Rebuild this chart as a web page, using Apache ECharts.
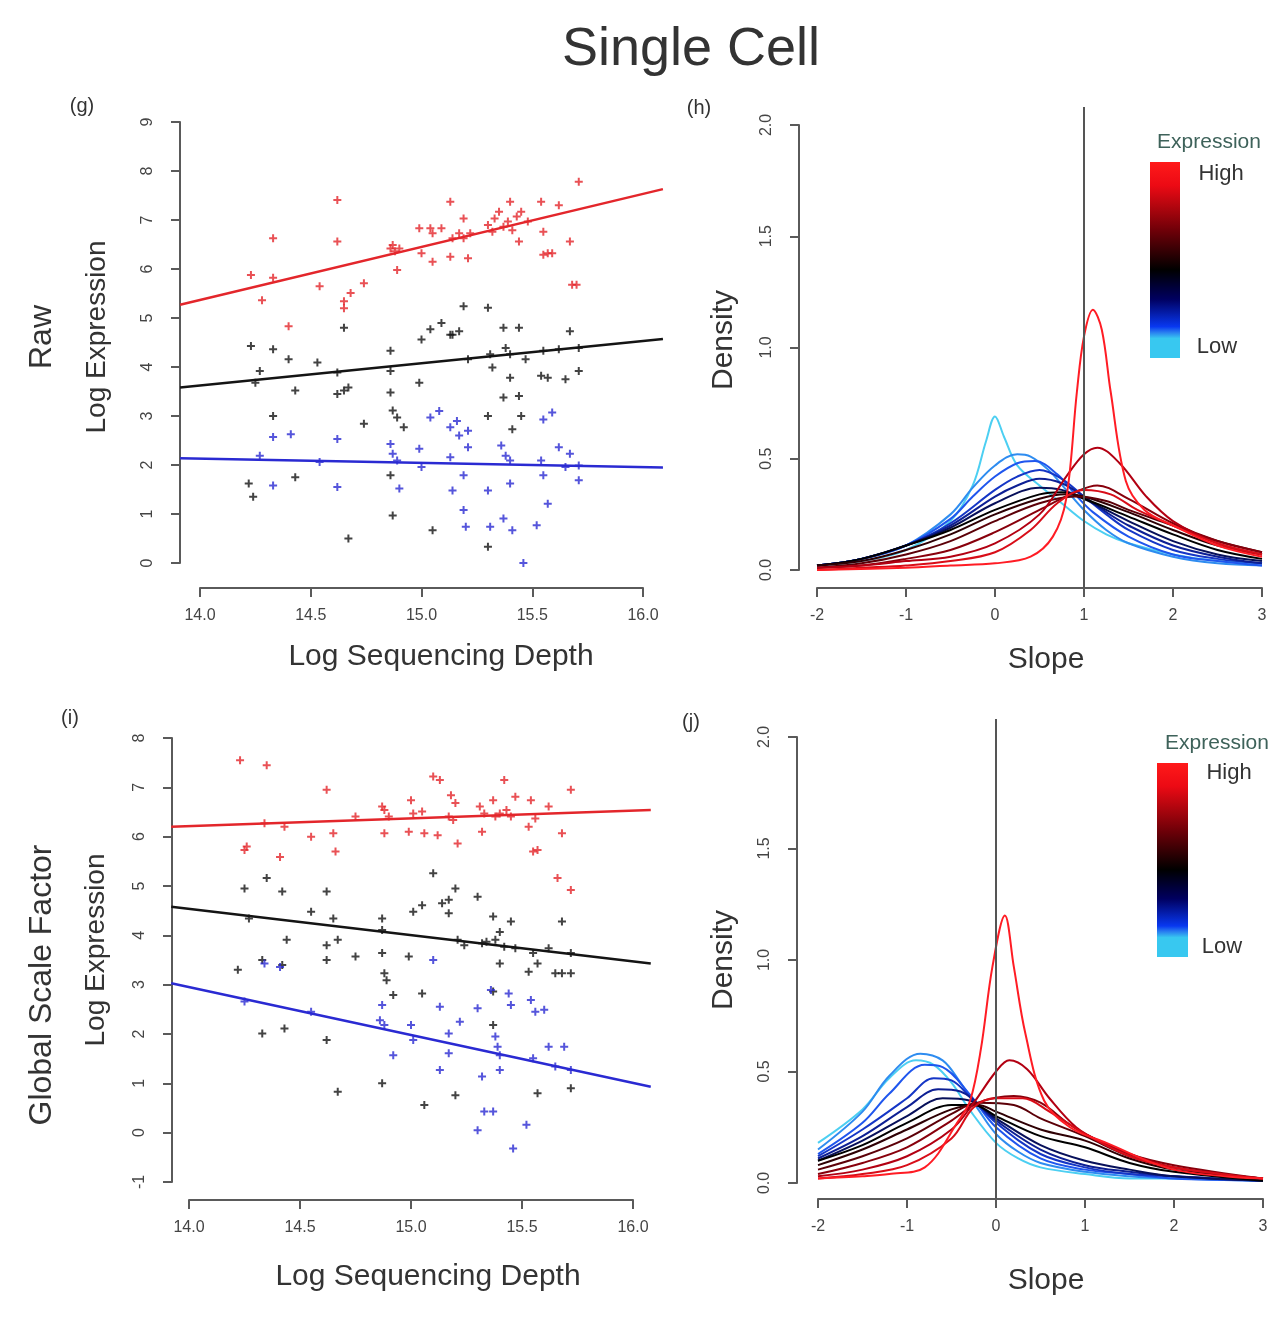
<!DOCTYPE html>
<html>
<head>
<meta charset="utf-8">
<title>Single Cell</title>
<script src="https://cdn.jsdelivr.net/npm/echarts@6/dist/echarts.min.js"></script>
<style>
  html, body { margin: 0; padding: 0; background: #fff; }
  #main { width: 1279px; height: 1320px; }
</style>
</head>
<body>
<div id="main"></div>
<script>
// ---------- axis tick ranges [min, max, step] ----------
var depthTicks = [14, 16, 0.5];
var rawExprTicks = [0, 9, 1];
var gsfExprTicks = [-1, 8, 1];
var slopeTicks = [-2, 3, 1];
var densityTicks = [0, 2, 0.5];

// ---------- (g) raw: log expression vs log sequencing depth ----------
var rawHigh = [[14.23,5.88],[14.28,5.36],[14.33,5.82],[14.33,6.63],[14.40,4.83],[14.54,5.65],[14.62,7.41],[14.62,6.56],
  [14.65,5.34],[14.65,5.2],[14.68,5.51],[14.74,5.71],[14.86,6.42],[14.87,6.49],[14.88,6.36],[14.89,5.98],[14.90,6.42],
  [14.99,6.83],[15.00,6.32],[15.04,6.83],[15.05,6.15],[15.05,6.73],[15.09,6.83],[15.13,7.37],[15.13,6.25],[15.14,6.63],
  [15.17,6.73],[15.19,7.03],[15.19,6.63],[15.21,6.22],[15.22,6.73],[15.30,6.90],[15.32,6.76],[15.33,7.03],[15.35,7.17],
  [15.37,6.86],[15.39,6.97],[15.40,7.37],[15.41,6.79],[15.43,7.07],[15.44,6.56],[15.45,7.17],[15.48,6.97],[15.54,7.37],
  [15.55,6.76],[15.55,6.29],[15.57,6.32],[15.59,6.32],[15.62,7.30],[15.67,6.56],[15.68,5.68],[15.70,5.68],[15.71,7.78]];
var rawMid = [[14.23,4.43],[14.27,3.92],[14.25,3.68],[14.33,4.36],[14.40,4.16],[14.33,3.0],[14.43,3.52],[14.53,4.09],
  [14.62,3.89],[14.62,3.45],[14.65,3.52],[14.67,3.58],[14.65,4.8],[14.74,2.84],[14.86,4.33],[14.86,3.92],[14.86,3.48],
  [14.87,3.11],[14.89,2.97],[14.92,2.77],[14.99,3.68],[15.00,4.56],[15.04,4.77],[15.09,4.9],[15.13,4.66],[15.14,4.66],
  [15.17,4.73],[15.19,5.24],[15.21,4.16],[15.30,5.21],[15.31,4.26],[15.32,3.99],[15.37,4.8],[15.37,3.38],[15.38,4.39],
  [15.40,4.26],[15.40,3.78],[15.44,4.8],[15.44,3.41],[15.45,3.0],[15.47,4.16],[15.54,3.82],[15.55,4.33],[15.57,3.78],
  [15.62,4.36],[15.65,3.75],[15.67,4.73],[15.71,4.39],[15.71,3.92],[15.30,3.0],[15.41,2.73],
  [14.22,1.62],[14.24,1.35],[14.43,1.75],[14.67,0.5],[14.87,0.97],[15.05,0.67],[15.30,0.33],[14.86,1.79]];
var rawLow = [[14.33,2.57],[14.41,2.63],[14.27,2.19],[14.54,2.06],[14.62,2.53],[14.86,2.43],[14.87,2.23],[14.89,2.09],
  [14.90,1.52],[14.99,2.33],[15.00,1.96],[15.04,2.97],[15.08,3.1],[15.13,2.77],[15.13,2.16],[15.14,1.48],[15.16,2.9],
  [15.17,2.6],[15.21,2.7],[15.21,2.36],[15.19,1.79],[15.19,1.08],[15.20,0.74],[15.30,1.48],[15.31,0.74],[15.36,2.4],
  [15.38,2.19],[15.40,2.09],[15.40,1.62],[15.37,0.91],[15.41,0.67],[15.46,0.0],[15.54,2.09],[15.55,1.79],[15.55,2.93],
  [15.57,1.21],[15.59,3.07],[15.62,2.36],[15.65,1.96],[15.67,2.23],[15.71,1.99],[15.71,1.69],[15.52,0.77],[14.33,1.58],[14.62,1.55]];
// fitted lines, read at the left and right edge of the plotting region
var rawFitHigh = [[13.91,5.27],[16.09,7.63]];
var rawFitMid = [[13.91,3.58],[16.09,4.57]];
var rawFitLow = [[13.91,2.14],[16.09,1.95]];

// ---------- (i) global scale factor ----------
var gsfHigh = [[14.23,7.55],[14.35,7.45],[14.62,6.95],[14.25,5.73],[14.26,5.80],[14.34,6.27],[14.43,6.20],[14.41,5.59],
  [14.55,6.00],[14.65,6.07],[14.66,5.70],[14.75,6.41],[14.87,6.61],[14.88,6.54],[14.88,6.07],[14.90,6.41],[15.00,6.74],
  [15.01,6.47],[14.99,6.10],[15.05,6.51],[15.06,6.07],[15.10,7.22],[15.12,6.03],[15.13,7.15],[15.17,6.41],[15.18,6.84],
  [15.19,6.34],[15.21,5.86],[15.20,6.68],[15.31,6.61],[15.32,6.10],[15.33,6.47],[15.37,6.74],[15.38,6.41],[15.40,6.47],
  [15.42,7.15],[15.43,6.54],[15.45,6.41],[15.47,6.81],[15.53,6.20],[15.54,6.74],[15.56,6.37],[15.55,5.70],[15.57,5.73],
  [15.62,6.61],[15.68,6.07],[15.72,6.95],[15.66,5.16],[15.72,4.92]];
var gsfMid = [[14.25,4.95],[14.22,3.30],[14.27,4.34],[14.35,5.16],[14.33,3.50],[14.42,4.89],[14.42,3.40],[14.44,3.91],
  [14.55,4.48],[14.62,4.89],[14.65,4.34],[14.62,3.80],[14.67,3.91],[14.62,3.50],[14.75,3.57],[14.87,4.34],[14.87,4.11],
  [14.87,3.64],[14.88,3.23],[14.89,3.09],[14.92,2.79],[14.99,3.57],[15.01,4.48],[15.05,4.61],[15.05,2.82],[15.10,5.26],
  [15.14,4.65],[15.17,4.72],[15.17,4.45],[15.20,4.95],[15.21,3.91],[15.24,3.80],[15.30,4.78],[15.32,3.84],[15.34,3.87],
  [15.37,4.38],[15.38,3.91],[15.40,4.07],[15.40,3.43],[15.42,3.77],[15.45,4.28],[15.47,3.74],[15.55,3.64],[15.57,3.43],
  [15.53,3.26],[15.62,3.74],[15.68,4.28],[15.72,3.64],[15.68,3.23],[15.65,3.23],[15.72,3.23],[15.37,2.86],[15.37,2.18],
  [15.57,0.80],[15.72,0.90],[14.67,0.83],[14.87,1.00],[15.06,0.56],[15.20,0.76],[14.33,2.01],[14.43,2.11],[14.62,1.88]];
var gsfLow = [[14.25,2.66],[14.34,3.43],[14.41,3.36],[14.55,2.45],[14.87,2.59],[14.86,2.28],[14.88,2.18],[14.92,1.57],
  [15.00,2.18],[15.01,1.88],[15.10,3.50],[15.13,2.55],[15.13,1.27],[15.17,2.01],[15.17,1.61],[15.22,2.25],[15.30,2.52],
  [15.32,1.14],[15.36,2.89],[15.38,1.95],[15.39,1.74],[15.40,1.57],[15.40,1.27],[15.44,2.82],[15.45,2.59],[15.54,2.69],
  [15.56,2.45],[15.60,2.49],[15.62,1.74],[15.69,1.74],[15.55,1.51],[15.65,1.34],[15.72,1.27],[15.33,0.43],[15.37,0.43],
  [15.30,0.05],[15.46,-0.32],[15.52,0.16]];
var gsfFitHigh = [[13.92,6.20],[16.08,6.54]];
var gsfFitMid = [[13.92,4.58],[16.08,3.43]];
var gsfFitLow = [[13.92,3.03],[16.08,0.93]];

// ---------- (h) / (j) slope densities, ordered low -> high expression ----------
var rawSlopeCurves = [
  [[-2,0.02],[-1.5,0.04],[-1,0.09],[-0.5,0.22],[-0.25,0.38],[-0.1,0.58],[0,0.69],[0.1,0.6],[0.25,0.47],[0.5,0.38],[0.75,0.3],[1,0.22],[1.25,0.16],[1.5,0.12],[2,0.07],[2.5,0.04],[3,0.03]],
  [[-2,0.02],[-1.5,0.05],[-1,0.11],[-0.5,0.25],[-0.25,0.37],[0,0.47],[0.25,0.52],[0.4,0.51],[0.6,0.45],[0.8,0.36],[1,0.27],[1.25,0.18],[1.5,0.12],[2,0.06],[2.5,0.03],[3,0.02]],
  [[-2,0.02],[-1.5,0.05],[-1,0.11],[-0.5,0.23],[-0.25,0.33],[0,0.42],[0.25,0.48],[0.45,0.49],[0.7,0.43],[0.9,0.34],[1.1,0.26],[1.5,0.15],[2,0.07],[2.5,0.04],[3,0.02]],
  [[-2,0.02],[-1.5,0.05],[-1,0.11],[-0.5,0.21],[0,0.36],[0.25,0.42],[0.5,0.45],[0.75,0.41],[1,0.33],[1.25,0.25],[1.5,0.18],[2,0.09],[2.5,0.05],[3,0.03]],
  [[-2,0.02],[-1.5,0.05],[-1,0.11],[-0.5,0.2],[0,0.33],[0.25,0.38],[0.5,0.41],[0.75,0.39],[1,0.33],[1.25,0.26],[1.5,0.2],[2,0.11],[2.5,0.06],[3,0.03]],
  [[-2,0.02],[-1.5,0.05],[-1,0.11],[-0.5,0.19],[0,0.3],[0.5,0.37],[0.75,0.36],[1,0.32],[1.5,0.22],[2,0.13],[2.5,0.07],[3,0.04]],
  [[-2,0.02],[-1.5,0.05],[-1,0.11],[-0.5,0.18],[0,0.27],[0.5,0.34],[0.75,0.35],[1,0.32],[1.5,0.24],[2,0.16],[2.5,0.09],[3,0.05]],
  [[-2,0.02],[-1.5,0.04],[-1,0.09],[-0.5,0.16],[0,0.25],[0.5,0.32],[0.8,0.34],[1,0.33],[1.5,0.26],[2,0.18],[2.5,0.11],[3,0.07]],
  [[-2,0.01],[-1.5,0.03],[-1,0.07],[-0.5,0.13],[0,0.22],[0.5,0.3],[0.9,0.33],[1.25,0.31],[1.5,0.27],[2,0.2],[2.5,0.13],[3,0.08]],
  [[-2,0.01],[-1.5,0.02],[-1,0.05],[-0.5,0.09],[0,0.17],[0.5,0.27],[0.9,0.35],[1.15,0.38],[1.5,0.32],[2,0.21],[2.5,0.13],[3,0.08]],
  [[-2,0.01],[-1.5,0.02],[-1,0.04],[-0.5,0.06],[0,0.12],[0.5,0.25],[0.8,0.42],[1,0.52],[1.15,0.55],[1.4,0.48],[1.7,0.33],[2,0.22],[2.5,0.12],[3,0.07]],
  [[-2,0.0],[-1.5,0.01],[-1,0.02],[-0.5,0.04],[0,0.08],[0.4,0.18],[0.7,0.3],[1,0.36],[1.3,0.34],[1.6,0.27],[2,0.2],[2.5,0.12],[3,0.07]],
  [[-2,0.0],[-1,0.01],[-0.5,0.02],[0,0.03],[0.4,0.06],[0.65,0.15],[0.8,0.32],[0.92,0.8],[1.0,1.05],[1.1,1.17],[1.2,1.08],[1.3,0.8],[1.47,0.4],[1.68,0.27],[2,0.2],[2.5,0.11],[3,0.06]]
];
var gsfSlopeCurves = [
  [[-2,0.18],[-1.5,0.33],[-1.2,0.47],[-0.9,0.55],[-0.7,0.53],[-0.5,0.45],[-0.3,0.33],[0,0.18],[0.25,0.11],[0.5,0.07],[1,0.04],[1.5,0.02],[2,0.02],[3,0.01]],
  [[-2,0.15],[-1.5,0.32],[-1.2,0.48],[-0.85,0.58],[-0.6,0.55],[-0.4,0.45],[-0.2,0.33],[0,0.22],[0.25,0.14],[0.5,0.09],[1,0.05],[1.5,0.03],[2,0.02],[3,0.01]],
  [[-2,0.13],[-1.5,0.27],[-1.2,0.4],[-0.8,0.53],[-0.6,0.52],[-0.3,0.4],[0,0.25],[0.5,0.11],[1,0.06],[1.5,0.04],[2,0.02],[3,0.01]],
  [[-2,0.12],[-1.5,0.24],[-1,0.38],[-0.7,0.47],[-0.5,0.46],[-0.3,0.39],[0,0.27],[0.5,0.13],[1,0.07],[1.5,0.04],[2,0.03],[3,0.01]],
  [[-2,0.11],[-1.5,0.21],[-1,0.34],[-0.65,0.42],[-0.4,0.41],[0,0.28],[0.5,0.15],[1,0.08],[1.5,0.05],[2,0.03],[3,0.01]],
  [[-2,0.1],[-1.5,0.19],[-1,0.3],[-0.6,0.38],[-0.3,0.37],[0,0.29],[0.5,0.17],[1,0.1],[1.5,0.06],[2,0.03],[3,0.01]],
  [[-2,0.1],[-1.5,0.17],[-1,0.27],[-0.5,0.35],[-0.25,0.35],[0,0.3],[0.5,0.21],[1,0.16],[1.5,0.09],[2,0.05],[3,0.01]],
  [[-2,0.08],[-1.5,0.15],[-1,0.24],[-0.5,0.33],[-0.2,0.35],[0,0.32],[0.5,0.24],[1,0.19],[1.5,0.11],[2,0.06],[3,0.02]],
  [[-2,0.06],[-1.5,0.12],[-1,0.2],[-0.5,0.31],[-0.2,0.36],[0.2,0.35],[0.5,0.29],[1,0.21],[1.5,0.12],[2,0.07],[3,0.02]],
  [[-2,0.04],[-1.5,0.09],[-1,0.16],[-0.5,0.28],[-0.2,0.36],[0.2,0.39],[0.5,0.36],[0.8,0.27],[1,0.22],[1.5,0.13],[2,0.08],[3,0.02]],
  [[-2,0.03],[-1.5,0.06],[-1,0.12],[-0.5,0.24],[-0.25,0.36],[0,0.5],[0.15,0.55],[0.35,0.51],[0.6,0.38],[0.9,0.25],[1.2,0.18],[1.5,0.13],[2,0.07],[3,0.02]],
  [[-2,0.02],[-1.5,0.04],[-1,0.08],[-0.5,0.2],[-0.25,0.34],[0,0.38],[0.3,0.38],[0.6,0.32],[1,0.22],[1.5,0.12],[2,0.07],[3,0.02]],
  [[-2,0.02],[-1.5,0.03],[-1.2,0.04],[-0.8,0.07],[-0.42,0.28],[-0.29,0.37],[-0.17,0.6],[-0.04,0.97],[0.1,1.2],[0.2,0.97],[0.33,0.67],[0.54,0.37],[0.83,0.25],[1.24,0.18],[2,0.06],[3,0.02]]
];
var rawSlopeRef = 1;
var gsfSlopeRef = 0;

// ---------- styling ----------
var FONT = '"Liberation Sans", Arial, sans-serif';
var TXT = '#333';
var AXIS = '#5a5a5a';
var RED = '#e3262b', BLK = '#141414', BLU = '#2a2ad2';
var curveColors = ['#4ccff2', '#2e8cf0', '#1f56ee', '#1536c6', '#0d1f94', '#07105a', '#000000',
                   '#2e0004', '#5c0008', '#88000c', '#b20012', '#d80d18', '#ff1c24'];
var barStops = [[0, '#ff1a1a'], [0.12, '#ec0a14'], [0.35, '#6e0008'], [0.55, '#000000'],
                [0.7, '#000060'], [0.84, '#0838f0'], [0.87, '#2a80f0'], [0.9, '#38c8f0'], [1, '#38c8f0']];
var PLUS = 'path://M0,3H3V0H5V3H8V5H5V8H3V5H0Z';

// pixel boxes: "axis" = first..last tick, "plot" = full plotting region (R usr)
var panels = [
  { axis: {l: 200, t: 122, r: 643, b: 563}, plot: {l: 180, t: 97, r: 662, b: 588}, x: depthTicks, y: rawExprTicks, xfmt: 1, yfmt: 0 },
  { axis: {l: 189, t: 738, r: 633, b: 1182}, plot: {l: 172, t: 720, r: 651, b: 1200}, x: depthTicks, y: gsfExprTicks, xfmt: 1, yfmt: 0 },
  { axis: {l: 817, t: 125, r: 1262, b: 570}, plot: {l: 799, t: 107, r: 1279, b: 588}, x: slopeTicks, y: densityTicks, xfmt: 0, yfmt: 1 },
  { axis: {l: 818, t: 737, r: 1263, b: 1183}, plot: {l: 797, t: 719, r: 1279, b: 1199}, x: slopeTicks, y: densityTicks, xfmt: 0, yfmt: 1 }
];

var grids = [], xAxes = [], yAxes = [];
panels.forEach(function (p) {
  var a = p.axis, q = p.plot;
  grids.push({ left: a.l, top: a.t, width: a.r - a.l, height: a.b - a.t });
  var lbl = { fontSize: 16, color: '#444', fontFamily: FONT, showMinLabel: true, showMaxLabel: true };
  xAxes.push({
    gridIndex: grids.length - 1, type: 'value', min: p.x[0], max: p.x[1], interval: p.x[2],
    position: 'bottom', offset: q.b - a.b,
    axisLine: { onZero: false, lineStyle: { color: AXIS, width: 2 } },
    axisTick: { length: 9, lineStyle: { color: AXIS, width: 2 } },
    axisLabel: Object.assign({ margin: 20, formatter: function (v) { return v.toFixed(p.xfmt); } }, lbl),
    splitLine: { show: false }
  });
  yAxes.push({
    gridIndex: grids.length - 1, type: 'value', min: p.y[0], max: p.y[1], interval: p.y[2],
    position: 'left', offset: a.l - q.l,
    axisLine: { onZero: false, lineStyle: { color: AXIS, width: 2 } },
    axisTick: { length: 9, lineStyle: { color: AXIS, width: 2 } },
    axisLabel: Object.assign({ margin: 24, rotate: 90, formatter: function (v) { return v.toFixed(p.yfmt); } }, lbl),
    splitLine: { show: false }
  });
});
// data grids cover the whole plotting region, same scale as the tick grids
panels.forEach(function (p) {
  var a = p.axis, q = p.plot;
  var kx = (p.x[1] - p.x[0]) / (a.r - a.l), ky = (p.y[1] - p.y[0]) / (a.b - a.t);
  grids.push({ left: q.l, top: q.t, width: q.r - q.l, height: q.b - q.t });
  xAxes.push({ gridIndex: grids.length - 1, type: 'value', show: false, splitLine: { show: false },
    min: p.x[0] - (a.l - q.l) * kx, max: p.x[1] + (q.r - a.r) * kx });
  yAxes.push({ gridIndex: grids.length - 1, type: 'value', show: false, splitLine: { show: false },
    min: p.y[0] - (q.b - a.b) * ky, max: p.y[1] + (a.t - q.t) * ky });
});

var series = [];
function points(data, color, idx) {
  series.push({ type: 'scatter', xAxisIndex: idx, yAxisIndex: idx, data: data, symbol: PLUS, symbolSize: 8,
    itemStyle: { color: color }, silent: true });
}
function fit(data, color, idx) {
  series.push({ type: 'line', xAxisIndex: idx, yAxisIndex: idx, data: data, showSymbol: false, clip: true,
    lineStyle: { color: color, width: 2.5 }, silent: true });
}
points(rawHigh, RED, 4); points(rawMid, BLK, 4); points(rawLow, BLU, 4);
fit(rawFitHigh, RED, 4); fit(rawFitMid, BLK, 4); fit(rawFitLow, BLU, 4);
points(gsfHigh, RED, 5); points(gsfMid, BLK, 5); points(gsfLow, BLU, 5);
fit(gsfFitHigh, RED, 5); fit(gsfFitMid, BLK, 5); fit(gsfFitLow, BLU, 5);

function densities(curves, ref, idx) {
  curves.forEach(function (c, i) {
    var s = { type: 'line', xAxisIndex: idx, yAxisIndex: idx, data: c, showSymbol: false, smooth: 0.35,
      lineStyle: { color: curveColors[i], width: 2 }, silent: true };
    if (i === 0) {
      s.markLine = { silent: true, symbol: 'none', label: { show: false },
        lineStyle: { color: '#555', width: 2, type: 'solid' }, data: [{ xAxis: ref }] };
    }
    series.push(s);
  });
}
densities(rawSlopeCurves, rawSlopeRef, 6);
densities(gsfSlopeCurves, gsfSlopeRef, 7);

function text(str, x, y, size, rotate, color) {
  return { type: 'text', x: x, y: y, rotation: rotate ? Math.PI / 2 : 0, silent: true,
    style: { text: str, fontSize: size, fontFamily: FONT, fill: color || TXT,
      textAlign: 'center', textVerticalAlign: 'middle', align: 'center', verticalAlign: 'middle' } };
}
function colorBar(x, y, w, h) {
  return { type: 'rect', shape: { x: x, y: y, width: w, height: h }, silent: true,
    style: { fill: { type: 'linear', x: 0, y: 0, x2: 0, y2: 1,
      colorStops: barStops.map(function (s) { return { offset: s[0], color: s[1] }; }) } } };
}

var option = {
  backgroundColor: '#fff',
  animation: false,
  title: { text: 'Single Cell', left: 686, top: 18, textAlign: 'center',
    textStyle: { fontSize: 54, fontWeight: 'normal', color: TXT, fontFamily: FONT } },
  grid: grids,
  xAxis: xAxes,
  yAxis: yAxes,
  series: series,
  graphic: [
    text('(g)', 82, 106, 20), text('(h)', 699, 108, 20), text('(i)', 70, 718, 20), text('(j)', 691, 722, 20),
    text('Raw', 42, 337, 32, true), text('Log Expression', 97, 337, 28, true),
    text('Log Sequencing Depth', 441, 657, 30),
    text('Density', 724, 340, 30, true), text('Slope', 1046, 660, 30),
    text('Global Scale Factor', 42, 985, 32, true), text('Log Expression', 96, 950, 28, true),
    text('Log Sequencing Depth', 428, 1277, 30),
    text('Density', 724, 960, 30, true), text('Slope', 1046, 1281, 30),
    colorBar(1150, 162, 30, 196),
    text('Expression', 1209, 142, 21, false, '#3e625a'),
    text('High', 1221, 174, 22), text('Low', 1217, 347, 22),
    colorBar(1157, 763, 31, 194),
    text('Expression', 1217, 743, 21, false, '#3e625a'),
    text('High', 1229, 773, 22), text('Low', 1222, 947, 22)
  ]
};

var chart = echarts.init(document.getElementById('main'));
chart.setOption(option);
</script>
</body>
</html>
